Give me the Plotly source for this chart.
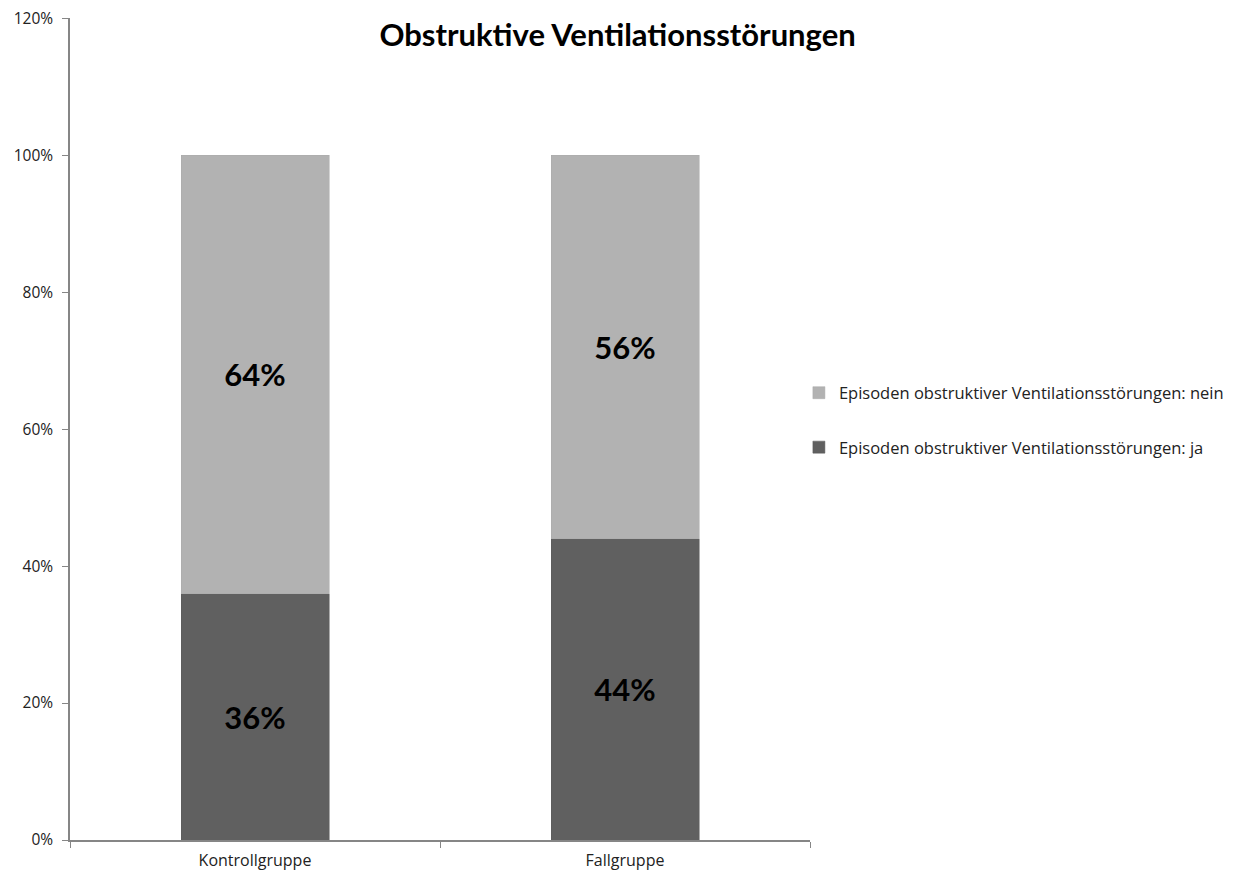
import plotly.graph_objects as go

categories = ["Kontrollgruppe", "Fallgruppe"]
ja_values = [36, 44]
nein_values = [64, 56]
series_names = ["Episoden obstruktiver Ventilationsstörungen: ja",
                "Episoden obstruktiver Ventilationsstörungen: nein"]
y_ticks = [0, 20, 40, 60, 80, 100, 120]
y_tick_labels = [f"{v}%" for v in y_ticks]

label_font = dict(family="Lato", size=31, color="black", weight="bold")

fig = go.Figure()
fig.add_trace(go.Bar(
    x=categories, y=ja_values, name=series_names[0], legendgroup="ja", legendrank=2,
    marker=dict(color="#606060", line=dict(color="#5a5a5a", width=0.5)),
    texttemplate="%{y:.0f}%", textposition="inside", insidetextanchor="middle",
    textfont=label_font,
))
fig.add_trace(go.Bar(
    x=categories, y=nein_values, name=series_names[1], legendgroup="nein", legendrank=1,
    marker=dict(color="#B2B2B2", line=dict(color="#aaaaaa", width=0.5)),
    texttemplate="%{y:.0f}%", textposition="inside", insidetextanchor="middle",
    textfont=label_font,
))

fig.update_layout(
    width=1242, height=877,
    barmode="stack", bargap=0.6,
    plot_bgcolor="white", paper_bgcolor="white",
    margin=dict(l=62, r=440, t=10, b=45, autoexpand=False),
    font=dict(family="Open Sans", size=15, color="#222"),
    title=dict(text="<b>Obstruktive Ventilationsstörungen</b>", x=0.4908, xref="container",
               y=0.969, yref="container", xanchor="center", yanchor="middle",
               font=dict(family="Lato", size=31, color="black")),
    legend=dict(x=0.985, xanchor="left", y=0.511, yanchor="middle",
                traceorder="grouped", tracegroupgap=30,
                font=dict(family="Open Sans", size=16.5, color="#222"),
                itemwidth=30, bgcolor="rgba(0,0,0,0)"),
    showlegend=True,
)
fig.update_xaxes(
    type="category", showline=True, linecolor="#868686", linewidth=1.5,
    ticks="outside", tickson="boundaries", ticklen=6, tickcolor="#868686",
    showgrid=False, tickfont=dict(family="Open Sans", size=16, color="#222"),
    ticklabelstandoff=5, automargin=False,
)
fig.update_yaxes(
    range=[0, 120.05], tickmode="array", tickvals=y_ticks, ticktext=y_tick_labels,
    showline=True, linecolor="#868686", linewidth=1.5, ticks="outside", ticklen=6,
    tickcolor="#868686", showgrid=False, zeroline=False,
    tickfont=dict(family="Open Sans", size=15.5, color="#222"),
    ticklabelstandoff=6, automargin=False, ticklabeloverflow="allow",
)

fig.write_html("out.html")
